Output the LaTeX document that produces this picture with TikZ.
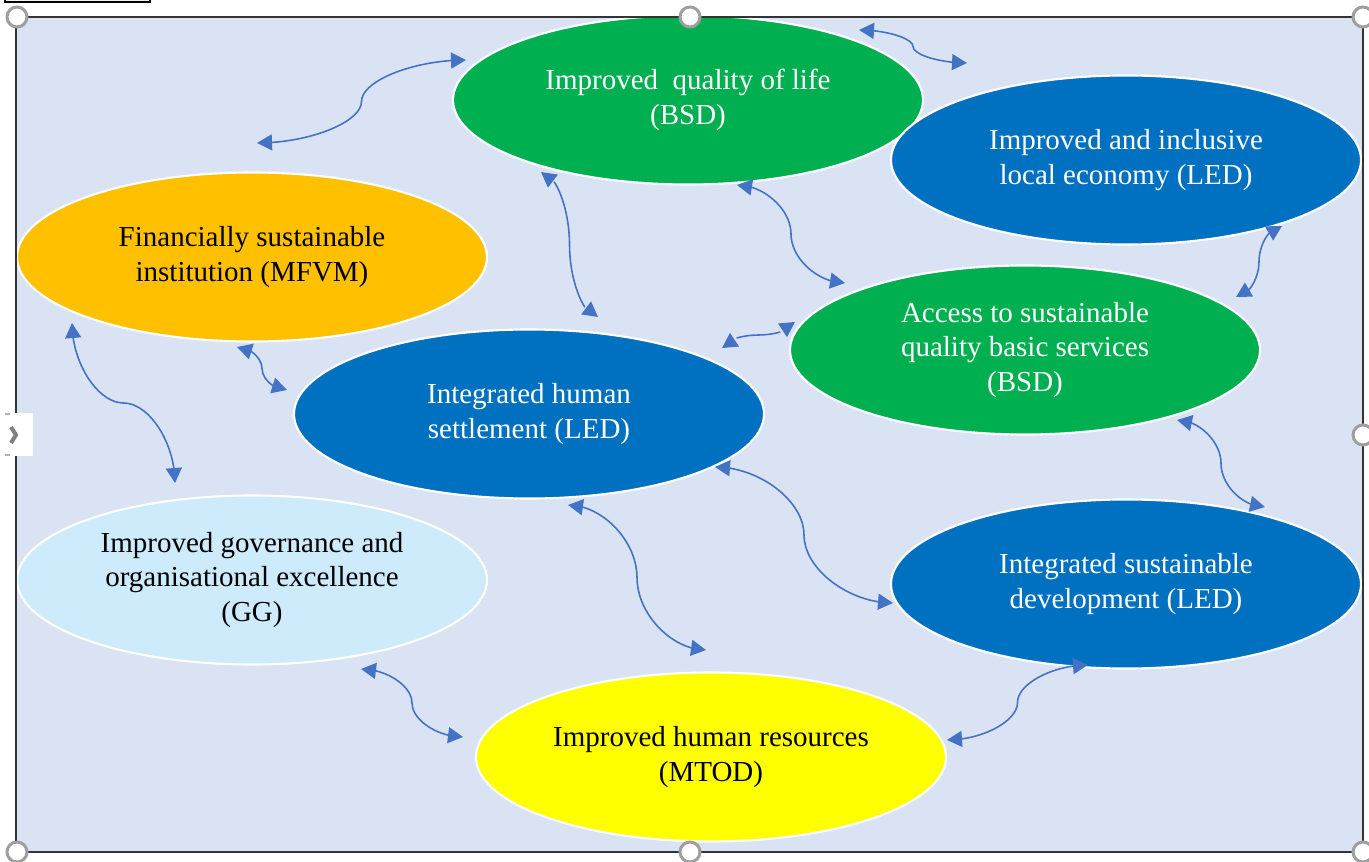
\documentclass[tikz,border=0pt]{standalone}
\usepackage{fontspec}
\setmainfont{Liberation Serif}
\usetikzlibrary{arrows.meta,shapes.geometric,bending,calc}
\usepackage{xcolor}

\definecolor{panel}{HTML}{DAE3F3}
\definecolor{goalgreen}{HTML}{00B050}
\definecolor{goalblue}{HTML}{0070C0}
\definecolor{goalorange}{HTML}{FFC000}
\definecolor{goalyellow}{HTML}{FFFF00}
\definecolor{goalsky}{HTML}{CDEBFB}
\definecolor{linkblue}{HTML}{4472C4}

\tikzset{
  hvh/.style={to path={let \p1=(\tikztostart),\p2=(\tikztotarget) in
    .. controls ({\x1+(\x2-\x1)/4},\y1) and ({(\x1+\x2)/2},{\y1+(\y2-\y1)/4}) .. ({(\x1+\x2)/2},{(\y1+\y2)/2})
    .. controls ({(\x1+\x2)/2},{\y1+3*(\y2-\y1)/4}) and ({\x1+3*(\x2-\x1)/4},\y2) .. (\tikztotarget)}},
  vhv/.style={to path={let \p1=(\tikztostart),\p2=(\tikztotarget) in
    .. controls (\x1,{\y1+(\y2-\y1)/4}) and ({\x1+(\x2-\x1)/4},{(\y1+\y2)/2}) .. ({(\x1+\x2)/2},{(\y1+\y2)/2})
    .. controls ({\x1+3*(\x2-\x1)/4},{(\y1+\y2)/2}) and (\x2,{\y1+3*(\y2-\y1)/4}) .. (\tikztotarget)}}
}

\begin{document}
\begin{tikzpicture}[
				x=0.2mm,y=0.2mm,
				goal/.style={ellipse,draw=white,line width=1.2pt,minimum width=94mm,minimum height=33.8mm,inner sep=0pt,align=center,font=\fontsize{16.5}{19.5}\selectfont},
				link/.style={{Triangle[length=3mm,width=3.2mm,flex]}-{Triangle[length=3mm,width=3.2mm,flex]},line width=0.9pt,linkblue},
				handle/.style={draw=gray!75,fill=white,line width=0.6mm}
				]
				\useasboundingbox (0,0) rectangle (1369,861);
				\fill[panel] (16,9) rectangle (1363,844);
				
				\node[goal,fill=goalgreen,text=white] (life) at (688,761) {Improved\ \ quality of life\\(BSD)};
				\node[goal,fill=goalblue,text=white] (economy) at (1126,701) {Improved and inclusive\\local economy (LED)};
				\node[goal,fill=goalorange] (finance) at (252,604) {Financially sustainable\\institution (MFVM)};
				\node[goal,fill=goalgreen,text=white] (services) at (1025,511) {Access to sustainable\\quality basic services\\(BSD)};
				\node[goal,fill=goalblue,text=white] (settlement) at (529,447) {Integrated human\\settlement (LED)};
				\node[goal,fill=goalsky] (governance) at (252,281) {Improved governance and\\organisational excellence\\(GG)};
				\node[goal,fill=goalblue,text=white] (development) at (1126,277) {Integrated sustainable\\development (LED)};
				\node[goal,fill=goalyellow] (resources) at (711,104) {Improved human resources\\(MTOD)};
				
				% arrow ends
				\coordinate (fl1) at (257,718);   \coordinate (fl2) at (466,801);
				\coordinate (le1) at (859,831);   \coordinate (le2) at (967,798);
				\coordinate (ls1) at (541,689);   \coordinate (ls2) at (598,544);
				\coordinate (la1) at (737,676);   \coordinate (la2) at (845,578);
				\coordinate (ea1) at (1282,635);  \coordinate (ea2) at (1236,564);
				\coordinate (sa1) at (722,513);   \coordinate (sa2) at (795,539);
				\coordinate (fs1) at (237,514);   \coordinate (fs2) at (287,471);
				\coordinate (fg1) at (72,538);    \coordinate (fg2) at (175,378);
				\coordinate (ad1) at (1177,441);  \coordinate (ad2) at (1265,354);
				\coordinate (sd1) at (715,394);   \coordinate (sd2) at (893,258);
				\coordinate (sr1) at (568,356);   \coordinate (sr2) at (706,211);
				\coordinate (gr1) at (361,192);   \coordinate (gr2) at (463,124);
				\coordinate (rd1) at (947,121);   \coordinate (rd2) at (1088,196);
				
				% arrows
				\draw[link] (fl1) to[hvh] (fl2);
				\draw[link] (le1) to[hvh] (le2);
				\draw[link] (ls1) to[hvh] (ls2);
				\draw[link] (la1) to[hvh] (la2);
				\draw[link] (ea1) to[hvh] (ea2);
				\draw[link] (sa1) to[vhv] (sa2);
				\draw[link] (fs1) to[hvh] (fs2);
				\draw[link] (fg1) to[vhv] (fg2);
				\draw[link] (ad1) to[hvh] (ad2);
				\draw[link] (sd1) to[hvh] (sd2);
				\draw[link] (sr1) to[hvh] (sr2);
				\draw[link] (gr1) to[hvh] (gr2);
				\draw[link] (rd1) to[hvh] (rd2);
				
				% frame and handles
				\draw[black!80,line width=0.55mm] (16,9) rectangle (1363,844);
				\foreach \hx/\hy in {17/844,690/844,1363/844,1363/426,17/9,690/9,1363/9}
					\draw[handle] (\hx,\hy) circle (10);
				\fill[white] (5,405) rectangle (33,448);
				\draw[gray!60,line width=0.4mm] (10,406) -- (5,406) (10,447) -- (5,447);
				\draw[gray,line width=0.8mm] (11,434) -- (16,426) -- (11,418);
				\fill[black!5] (5,859) rectangle (150,861);
				\draw[line width=0.5mm] (5,861) -- (5,859) -- (150,859) -- (150,861);
			\end{tikzpicture}
\end{document}
